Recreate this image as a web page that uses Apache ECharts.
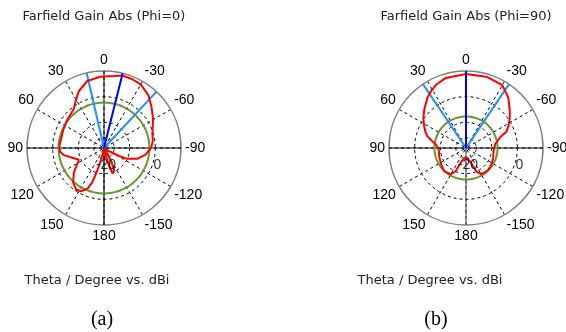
<!DOCTYPE html>
<html><head><meta charset="utf-8">
<script src="https://cdn.jsdelivr.net/npm/echarts@6/dist/echarts.min.js"></script>
<style>html,body{margin:0;padding:0;background:#fff}#c{width:566px;height:332px}</style>
</head><body><div id="c"></div>
<script>
// ---- data (theta in degrees, gain in dBi) ----
const thetaA = [-180,-170,-166,-164,-161,-158,-155,-152,-149,-145,-130,-124,-120,-118,-115,-108,-99,-90,-82,-73,-60,-49,-40,-30,-22,-14,-8,0,3,14,24,31,38,52,65,76,87,95,100,107,115,121,129,138,146,152,158,161,163,165,168,172,180];
const gainA  = [-19.5,-19.5,-17,-12.2,-9.5,-9.3,-10.5,-14.2,-17.5,-19.5,-19.5,-18,-16.9,-13.4,-10,-6.4,-3.6,-1.7,-0.8,-0.3,2.1,4.5,6.9,8.6,9.0,9.1,8.3,7.9,7.8,6.9,4.2,1.4,-0.8,-1.9,-2.6,-2.9,-2.6,-2.8,-4.1,-7.1,-9.2,-7.8,-4.9,-2.0,-0.5,-0.9,-2.9,-5.7,-10.0,-14.1,-18,-19.5,-19.5];
const thetaB = [-180,-172,-166,-160,-156,-150,-143,-135,-126,-118,-106,-97,-88,-82,-76,-72,-68,-62,-55,-49,-40,-30,-16,0,16,25,31,37.5,47,55,62,68,73,78,83,90,96,106,120,136,150,156,160,166,172,180];
const gainB  = [-16.5,-16.1,-15.0,-13.4,-9.9,-8.3,-8.0,-7.8,-8.1,-8.4,-8.9,-9.2,-8.9,-8.5,-7.0,-6.0,-3.0,-1.2,0.8,2.6,5.6,8.3,8.9,8.8,8.4,7.3,6.1,4.7,2.2,0.3,-1.5,-2.9,-4.2,-6.4,-8.1,-9.1,-9.4,-9.1,-8.6,-7.6,-8.1,-10.2,-13.9,-15.3,-16.1,-16.5];
const mainLobeA = -14, beamEdgesA = [13, -43], sideLobeA = -2.3;
const mainLobeB = 0,   beamEdgesB = [34, -34], sideLobeB = -7.7;
const radialLabels = [-20, 0];
const innerRing = -16;
const rMin = -20, rMax = 10;
const titles = ['Farfield Gain Abs (Phi=0)', 'Farfield Gain Abs (Phi=90)'];
const xLabel = 'Theta / Degree vs. dBi';
const captions = ['(a)', '(b)'];

const FONT = 'DejaVu Sans';
const AXFONT = 'Liberation Sans';
const chart = echarts.init(document.getElementById('c'), null, {renderer:'canvas'});

function circle(val){ const d=[]; for(let a=-180;a<=180;a+=5) d.push([val,a]); return d; }

function plotSeries(pi, theta, gain, main, edges, side, lowerColor){
  const s = [];
  const seg = (data, color, width, z, type) => ({type:'line', coordinateSystem:'polar', polarIndex:pi, data:data, symbol:'none',
    lineStyle:{color:color, width:width, type:type||'solid'}, silent:true, z:z});
  s.push(Object.assign(seg(circle(innerRing), '#000', 1, 1, [3,3]), {smooth:true}));
  s.push(seg([[rMax,0],[rMin,0]], '#000', 1, 2));
  s.push(seg([[rMin,0],[rMax,180]], lowerColor, 1.2, 2));
  s.push(seg([[rMax,90],[rMin,0],[rMax,-90]], '#000', 1, 2));
  s.push(Object.assign(seg(circle(side), '#669933', 2, 3), {smooth:true}));
  edges.forEach(e=>s.push(seg([[rMin,e],[rMax,e]], '#1e90ff', 2, 4)));
  s.push(seg(theta.map((t,i)=>[gain[i],t]), '#ff0000', 2, 5));
  s.push(seg([[rMin,main],[rMax,main]], '#0000ff', 2, 6));
  s.push({type:'scatter', coordinateSystem:'polar', polarIndex:pi, symbolSize:1, itemStyle:{color:'rgba(0,0,0,0)'},
    data: radialLabels.map(v=>({name:String(v), value:[v,-90]})),
    label:{show:true, position:'inside', offset:[2,17], formatter:'{b}', color:'#000', fontSize:14, fontFamily:AXFONT}, silent:true, z:7});
  return s;
}

function angleAxis(pi){
  return {polarIndex:pi, type:'value', min:-180, max:180, interval:30, startAngle:270, clockwise:false,
    axisLine:{lineStyle:{color:'#808080', width:1.6}}, axisTick:{show:false},
    axisLabel:{margin:4, color:'#000', fontSize:14, fontFamily:AXFONT, formatter:v=> (v===-180||v===180)?'180':String(v)},
    splitLine:{show:true, lineStyle:{color:'#000', width:1, type:[3,3]}}};
}
function radiusAxis(pi){
  return {polarIndex:pi, type:'value', min:rMin, max:rMax, interval:10,
    axisLine:{show:false}, axisTick:{show:false}, axisLabel:{show:false},
    splitLine:{show:true, lineStyle:{color:['#000','#000','#000','rgba(0,0,0,0)'], width:1, type:[3,3]}}};
}

function txt(x,y,text,size,family,fill){
  return {type:'text', x:x, y:y, silent:true, style:{text:text, fontSize:size, fontFamily:family, fill:fill, align:'center', verticalAlign:'middle'}};
}

chart.setOption({
  animation:false,
  backgroundColor:'#fff',
  polar:[{center:[104,148], radius:77},{center:[466,148], radius:77}],
  angleAxis:[angleAxis(0), angleAxis(1)],
  radiusAxis:[radiusAxis(0), radiusAxis(1)],
  series:[].concat(
    plotSeries(0, thetaA, gainA, mainLobeA, beamEdgesA, sideLobeA, '#000'),
    plotSeries(1, thetaB, gainB, mainLobeB, beamEdgesB, sideLobeB, '#606060')),
  graphic:[
    txt(104,17,titles[0],13,FONT,'#222'),
    txt(466,17,titles[1],13,FONT,'#222'),
    txt(97,281,xLabel,13,FONT,'#222'),
    txt(430,281,xLabel,13,FONT,'#222'),
    txt(102,320,captions[0],20,'Liberation Serif','#000'),
    txt(436,320,captions[1],20,'Liberation Serif','#000')
  ]
});
</script></body></html>
